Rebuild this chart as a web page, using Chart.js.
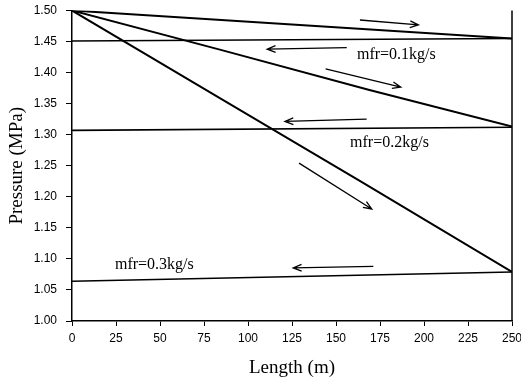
<!DOCTYPE html>
<html>
<head>
<meta charset="utf-8">
<script src="https://cdn.jsdelivr.net/npm/chart.js@4/dist/chart.umd.min.js"></script>
<style>
  html, body { margin: 0; padding: 0; background: #fff; }
  #wrap { width: 521px; height: 383px; position: relative; }
</style>
</head>
<body>
<div id="wrap"><canvas id="c" width="521" height="383"></canvas></div>
<script>
// ---- data ----
const xTicks = [0, 25, 50, 75, 100, 125, 150, 175, 200, 225, 250];
const yTicks = [1.00, 1.05, 1.10, 1.15, 1.20, 1.25, 1.30, 1.35, 1.40, 1.45, 1.50];

// outgoing (inlet -> end) and return lines for each mass flow rate
const out01X = [0, 250];
const out01Y = [1.500, 1.455];
const ret01X = [250, 0];
const ret01Y = [1.455, 1.451];

const out02X = [0, 84, 169, 250];
const out02Y = [1.500, 1.437, 1.372, 1.313];
const ret02X = [250, 0];
const ret02Y = [1.312, 1.307];

const out03X = [0, 84, 164, 250];
const out03Y = [1.500, 1.359, 1.225, 1.079];
const ret03X = [250, 0];
const ret03Y = [1.079, 1.064];

// labels
const labelTexts = ['mfr=0.1kg/s', 'mfr=0.2kg/s', 'mfr=0.3kg/s'];
const labelX = [161.9, 158.0, 24.4];
const labelY = [1.4285, 1.287, 1.0908];

// arrows: tail -> tip in data units
const arrowTailX = [163.6, 156.1, 144.1, 167.4, 129.0, 171.2];
const arrowTailY = [1.4847, 1.4403, 1.4059, 1.3251, 1.2543, 1.0881];
const arrowTipX  = [196.8, 110.9, 186.8, 121.0, 170.3, 125.7];
const arrowTipY  = [1.4767, 1.4378, 1.3765, 1.3213, 1.1804, 1.0856];

function pts(xs, ys) { return xs.map((x, i) => ({x: x, y: ys[i]})); }
function ds(xs, ys, w) {
  return { data: pts(xs, ys), borderColor: '#000', borderWidth: w, pointRadius: 0, fill: false, tension: 0 };
}

const annotPlugin = {
  id: 'annot',
  afterDatasetsDraw(chart) {
    const ctx = chart.ctx, xs = chart.scales.x, ys = chart.scales.y, ca = chart.chartArea;
    ctx.save();
    // right frame line
    ctx.strokeStyle = '#000';
    ctx.lineWidth = 1.5;
    ctx.beginPath();
    ctx.moveTo(ca.right, ca.top);
    ctx.lineTo(ca.right, ca.bottom);
    ctx.stroke();
    // arrows
    ctx.lineWidth = 1.3;
    for (let i = 0; i < arrowTailX.length; i++) {
      const x0 = xs.getPixelForValue(arrowTailX[i]), y0 = ys.getPixelForValue(arrowTailY[i]);
      const x1 = xs.getPixelForValue(arrowTipX[i]), y1 = ys.getPixelForValue(arrowTipY[i]);
      const a = Math.atan2(y1 - y0, x1 - x0);
      const h = 9, s = 0.38;
      ctx.beginPath();
      ctx.moveTo(x0, y0); ctx.lineTo(x1, y1);
      ctx.moveTo(x1 - h * Math.cos(a - s), y1 - h * Math.sin(a - s));
      ctx.lineTo(x1, y1);
      ctx.lineTo(x1 - h * Math.cos(a + s), y1 - h * Math.sin(a + s));
      ctx.stroke();
    }
    // labels
    ctx.fillStyle = '#000';
    ctx.font = '16px "Liberation Serif", "Times New Roman", serif';
    ctx.textAlign = 'left';
    ctx.textBaseline = 'middle';
    for (let i = 0; i < labelTexts.length; i++) {
      ctx.fillText(labelTexts[i], xs.getPixelForValue(labelX[i]), ys.getPixelForValue(labelY[i]));
    }
    ctx.restore();
  }
};

const tickFont = { family: 'Liberation Sans, Arial, sans-serif', size: 12 };
const titleFont = { family: '"Liberation Serif", "Times New Roman", serif', size: 19, lineHeight: 1.2 };

new Chart(document.getElementById('c'), {
  type: 'line',
  data: {
    datasets: [
      ds(out01X, out01Y, 2), ds(ret01X, ret01Y, 1.6),
      ds(out02X, out02Y, 2), ds(ret02X, ret02Y, 1.6),
      ds(out03X, out03Y, 2), ds(ret03X, ret03Y, 1.6)
    ]
  },
  options: {
    responsive: false,
    animation: false,
    layout: { padding: { top: 10.5, right: 0, bottom: 0, left: 0 } },
    plugins: { legend: { display: false }, tooltip: { enabled: false } },
    scales: {
      x: {
        type: 'linear', min: 0, max: 250,
        afterBuildTicks: s => { s.ticks = xTicks.map(v => ({ value: v })); },
        afterFit: s => { s.height = 62; s.paddingLeft = 0; s.paddingRight = 9; },
        ticks: { color: '#000', font: tickFont, padding: 5, maxRotation: 0, autoSkip: false,
                 callback: v => String(v) },
        grid: { display: true, drawOnChartArea: false, tickLength: 5, color: '#000', tickColor: '#000' },
        border: { display: true, color: '#000', width: 1.5 },
        title: { display: true, text: 'Length (m)', color: '#000', font: titleFont, padding: { top: 0, bottom: 4 } }
      },
      y: {
        type: 'linear', min: 1.0, max: 1.5,
        afterBuildTicks: s => { s.ticks = yTicks.map(v => ({ value: v })); },
        afterFit: s => { s.width = 72; s.paddingTop = 0; s.paddingBottom = 0; },
        ticks: { color: '#000', font: tickFont, padding: 9, autoSkip: false,
                 callback: v => Number(v).toFixed(2) },
        grid: { display: true, drawOnChartArea: false, tickLength: 6, color: '#000', tickColor: '#000' },
        border: { display: true, color: '#000', width: 1.5 },
        title: { display: true, text: 'Pressure (MPa)', color: '#000', font: titleFont, padding: { top: 6, bottom: 0 } }
      }
    }
  },
  plugins: [annotPlugin]
});
</script>
</body>
</html>
